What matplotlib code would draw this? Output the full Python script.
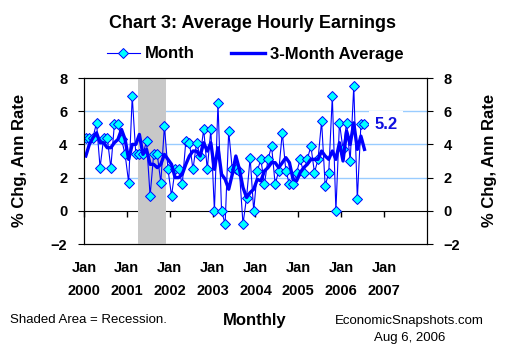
import matplotlib
matplotlib.use("Agg")
import matplotlib.pyplot as plt
import numpy as np

plt.rcParams['font.family'] = ['Liberation Sans', 'DejaVu Sans']

# monthly % change, annual rate, Jan 2000 - Jul 2006
month = [4.4, 4.4, 4.4, 5.3, 2.6, 4.4, 4.4, 2.6, 5.2, 5.2, 4.3, 3.4,
         1.7, 6.9, 3.4, 3.4, 3.4, 4.2, 0.9, 3.4, 3.4, 1.7, 5.1, 2.5,
         0.9, 2.5, 2.5, 1.6, 4.2, 4.1, 2.5, 4.1, 3.3, 4.9, 2.5, 4.9,
         0.0, 6.5, 0.0, -0.8, 4.8, 2.5, 2.5, 2.4, -0.8, 0.8, 3.2, 0.0,
         2.4, 3.1, 1.6, 3.1, 3.9, 1.6, 2.4, 4.7, 2.4, 1.6, 1.6, 2.3,
         3.1, 2.3, 3.1, 3.9, 2.3, 3.1, 5.4, 1.5, 2.3, 6.9, 0.0, 5.3,
         3.7, 5.3, 3.0, 7.5, 0.7, 5.2, 5.2]

# 3-month average
avg3 = [3.3, 4.0, 4.4, 4.7, 4.1, 4.1, 3.8, 3.8, 4.1, 4.3, 4.9, 4.3,
        3.1, 4.0, 4.0, 4.6, 3.4, 3.7, 2.8, 2.8, 2.6, 2.8, 3.4, 3.1,
        2.8, 2.0, 2.0, 2.2, 2.8, 3.3, 3.6, 3.6, 3.3, 4.1, 3.6, 4.1,
        2.5, 3.8, 2.2, 1.9, 1.3, 2.2, 3.3, 2.5, 1.4, 0.8, 1.1, 1.3,
        1.9, 1.8, 2.4, 2.6, 2.9, 2.9, 2.6, 2.9, 3.2, 2.9, 1.9, 1.8,
        2.3, 2.6, 2.8, 3.1, 3.1, 3.1, 3.6, 3.3, 3.1, 3.6, 3.1, 4.1,
        3.0, 4.8, 4.0, 5.3, 3.7, 4.5, 3.7]

years = ["2000", "2001", "2002", "2003", "2004", "2005", "2006", "2007"]
rec_start, rec_end = 15, 23   # months after Jan 2000 (recession 2001)

x = np.arange(len(month)) + 0.5   # mid-month

fig = plt.figure(figsize=(5.1, 3.6), dpi=100)
ax = fig.add_axes([84/510, 1-244/360, 343/510, 166/360])

ax.set_xlim(0, 96)
ax.set_ylim(-2, 8)

# grid lines
for g in [2, 4, 6]:
    ax.axhline(g, color='#99CCFF', lw=1, zorder=1)

ax.axvspan(rec_start, rec_end, color='#C8C8C8', lw=0, zorder=2.6)

ax.plot(x, month, color='#0000FF', lw=0.8, marker='D', markersize=5.5,
        markerfacecolor='#00FFFF', markeredgecolor='#0000FF',
        markeredgewidth=0.7, zorder=3, label='Month')
ax.plot(x, avg3, color='#0000FF', lw=2.4, zorder=4, label='3-Month Average')

ax.text(x[-1] + 6, month[-1], "%.1f" % month[-1], color='#1010E0',
        fontsize=12, fontweight='bold', ha='center', va='center',
        bbox=dict(facecolor='white', edgecolor='none', pad=4), zorder=5)

# category axis at zero
ax.spines['bottom'].set_position(('data', 0))
ax.spines['bottom'].set_zorder(2.5)
ax.set_xticks(np.arange(0, 85, 12))
ax.tick_params(axis='x', direction='out', length=4, width=1,
               labelbottom=False)

sec = ax.secondary_xaxis('bottom')
sec.set_xticks(np.arange(0, 85, 12))
sec.set_xticklabels(["Jan\n" + y for y in years], fontsize=10.5,
                    fontweight='bold', linespacing=1.85)
sec.tick_params(length=0, pad=12)

ax.set_yticks(np.arange(-2, 9, 2))
ax.tick_params(axis='y', direction='out', length=4, labelsize=10.5, pad=8)
for t in ax.get_yticklabels():
    t.set_fontweight('bold')

ax2 = ax.twinx()
ax2.set_ylim(-2, 8)
ax2.set_yticks(np.arange(-2, 9, 2))
ax2.tick_params(axis='y', direction='out', length=4, labelsize=10.5, pad=8)
for t in ax2.get_yticklabels():
    t.set_fontweight('bold')

fig.text(20/510, 1-160/360, "% Chg, Ann Rate", rotation=90, ha='center',
         va='center', fontsize=12, fontweight='bold')
fig.text(490/510, 1-160/360, "% Chg, Ann Rate", rotation=90, ha='center',
         va='center', fontsize=12, fontweight='bold')

fig.text(253/510, 1-23/360, "Chart 3: Average Hourly Earnings",
         ha='center', va='center', fontsize=13, fontweight='bold')

leg = fig.legend(loc='center', bbox_to_anchor=(255/510, 1-54/360), ncol=2,
                 frameon=False, handlelength=2.0, columnspacing=2.2,
                 handletextpad=0.3, prop={'size': 12, 'weight': 'bold'})

fig.text(10/510, 1-320/360, "Shaded Area = Recession.", ha='left',
         va='center', fontsize=9.5)
fig.text(255/510, 1-321/360, "Monthly", ha='center', va='center',
         fontsize=12, fontweight='bold')
fig.text(409/510, 1-321/360, "EconomicSnapshots.com", ha='center',
         va='center', fontsize=9.5)
fig.text(410/510, 1-338/360, "Aug 6, 2006", ha='center', va='center',
         fontsize=9.5)

fig.savefig("out.png", dpi=100)
